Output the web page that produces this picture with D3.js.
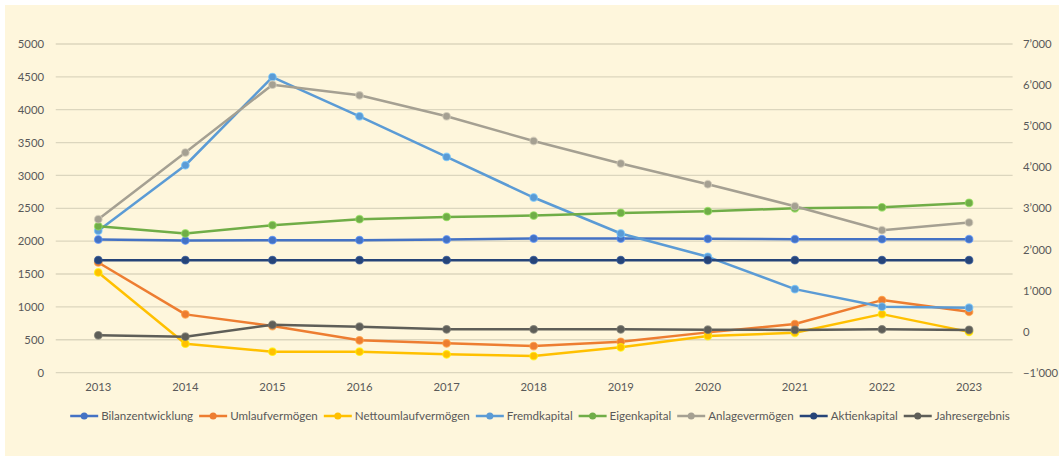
<!DOCTYPE html>
<html><head><meta charset="utf-8">
<script src="https://cdn.jsdelivr.net/npm/d3@7/dist/d3.min.js"></script>
<style>
html,body{margin:0;padding:0;background:#fff;}
svg{display:block;}
text{font-family:Lato,"Open Sans",sans-serif;}
</style></head>
<body>
<svg id="chart" width="1059" height="456"></svg>
<script>
const years = ["2013","2014","2015","2016","2017","2018","2019","2020","2021","2022","2023"];
const leftTicks = [0,500,1000,1500,2000,2500,3000,3500,4000,4500,5000];
const rightTicks = [-1000,0,1000,2000,3000,4000,5000,6000,7000];

const bilanzentwicklung   = [2025,2010,2015,2015,2025,2040,2040,2035,2030,2030,2030];
const umlaufvermoegen     = [1676, 886, 708, 491, 445, 404, 469, 612, 739,1103, 926];
const nettoumlaufvermoegen= [1524, 440, 318, 318, 278, 252, 384, 556, 606, 890, 620];
const fremdkapital        = [2160,3155,4497,3900,3281,2664,2117,1762,1270,1002, 987];
const eigenkapital        = [2228,2117,2243,2334,2369,2390,2430,2456,2500,2515,2582];
const anlagevermoegen     = [2334,3348,4381,4219,3900,3524,3181,2866,2532,2167,2284];
const aktienkapital       = [1711,1711,1711,1711,1711,1711,1711,1711,1711,1711,1711];
const jahresergebnis      = [ -92,-126, 165, 117,  53,  53,  53,  45,  40,  53,  40]; // right axis

const seriesNames = ["Bilanzentwicklung","Umlaufvermögen","Nettoumlaufvermögen","Fremdkapital","Eigenkapital","Anlagevermögen","Aktienkapital","Jahresergebnis"];
const seriesValues = [bilanzentwicklung,umlaufvermoegen,nettoumlaufvermoegen,fremdkapital,eigenkapital,anlagevermoegen,aktienkapital,jahresergebnis];
const seriesAxis = ["L","L","L","L","L","L","L","R"];
const seriesColors = ["#4472C4","#ED7D31","#FFC000","#5B9BD5","#70AD47","#A5A092","#264478","#5E5E58"];

const svg = d3.select("#chart");
svg.append("rect").attr("x",5).attr("y",5).attr("width",1054).attr("height",451).attr("fill","#FEF6DC");

const plot = {left:54.75, right:1012.6, top:44, bottom:372.6};
const x = d3.scaleBand().domain(years).range([plot.left, plot.right]);
const yL = d3.scaleLinear().domain([0,5000]).range([plot.bottom, plot.top]);
const yR = d3.scaleLinear().domain([-1000,7000]).range([plot.bottom, plot.top]);

// gridlines
svg.append("g").selectAll("line").data(leftTicks).join("line")
  .attr("x1",plot.left+1).attr("x2",plot.right)
  .attr("y1",d=>yL(d)).attr("y2",d=>yL(d))
  .attr("stroke","#DCD6BE").attr("stroke-width",1.3);

const styleText = sel => sel.attr("fill","#595959").style("font-size","11.3px").style("font-family","Lato");

// left axis
const axL = d3.axisLeft(yL).tickValues(leftTicks).tickSize(0).tickPadding(0).tickFormat(d3.format("d"));
const gL = svg.append("g").attr("transform",`translate(44,0)`).call(axL);
gL.select(".domain").remove();
styleText(gL.selectAll("text"));

// right axis
const fmtR = d => d3.format(",")(d).replace(/,/g,"\u2019");
const axR = d3.axisRight(yR).tickValues(rightTicks).tickSize(0).tickPadding(0).tickFormat(fmtR);
const gR = svg.append("g").attr("transform",`translate(1023,0)`).call(axR);
gR.select(".domain").remove();
styleText(gR.selectAll("text"));

// bottom axis
const axB = d3.axisBottom(x).tickSize(0).tickPadding(0);
const gB = svg.append("g").attr("transform",`translate(0,383)`).call(axB);
gB.select(".domain").remove();
styleText(gB.selectAll("text"));

// lines
const linesG = svg.append("g");
seriesValues.forEach((vals,i)=>{
  const ys = seriesAxis[i]==="L" ? yL : yR;
  const line = d3.line().x((d,j)=>x(years[j])+x.bandwidth()/2).y(d=>ys(d));
  const g = linesG.append("g");
  g.append("path").datum(vals).attr("d",line)
    .attr("fill","none").attr("stroke",seriesColors[i]).attr("stroke-width",2.5)
    .attr("stroke-linejoin","round").attr("stroke-linecap","round");
  g.selectAll("circle").data(vals).join("circle")
    .attr("cx",(d,j)=>x(years[j])+x.bandwidth()/2).attr("cy",d=>ys(d)).attr("r",3.8)
    .attr("fill",seriesColors[i]).attr("stroke",d3.color(seriesColors[i]).brighter(0.7)).attr("stroke-width",1.2).attr("stroke-opacity",0.7);
});

// legend
const legend = svg.append("g");
const items = [];
seriesNames.forEach((name,i)=>{
  const g = legend.append("g");
  g.append("line").attr("x1",0).attr("x2",28).attr("y1",0).attr("y2",0).attr("stroke",seriesColors[i]).attr("stroke-width",2.5);
  g.append("circle").attr("cx",14).attr("cy",0).attr("r",3.5).attr("fill",seriesColors[i]);
  const t = g.append("text").attr("x",31).attr("y",0).attr("dy","0.35em").attr("fill","#595959").style("font-size","11.6px").style("font-family","Lato").text(name);
  const w = 31 + t.node().getComputedTextLength();
  items.push({g,w});
});
const gap = 6;
const total = d3.sum(items,d=>d.w) + gap*(items.length-1);
let pos = 540 - total/2;
items.forEach(it=>{ it.g.attr("transform",`translate(${pos},416)`); pos += it.w + gap; });
</script>
</body></html>
